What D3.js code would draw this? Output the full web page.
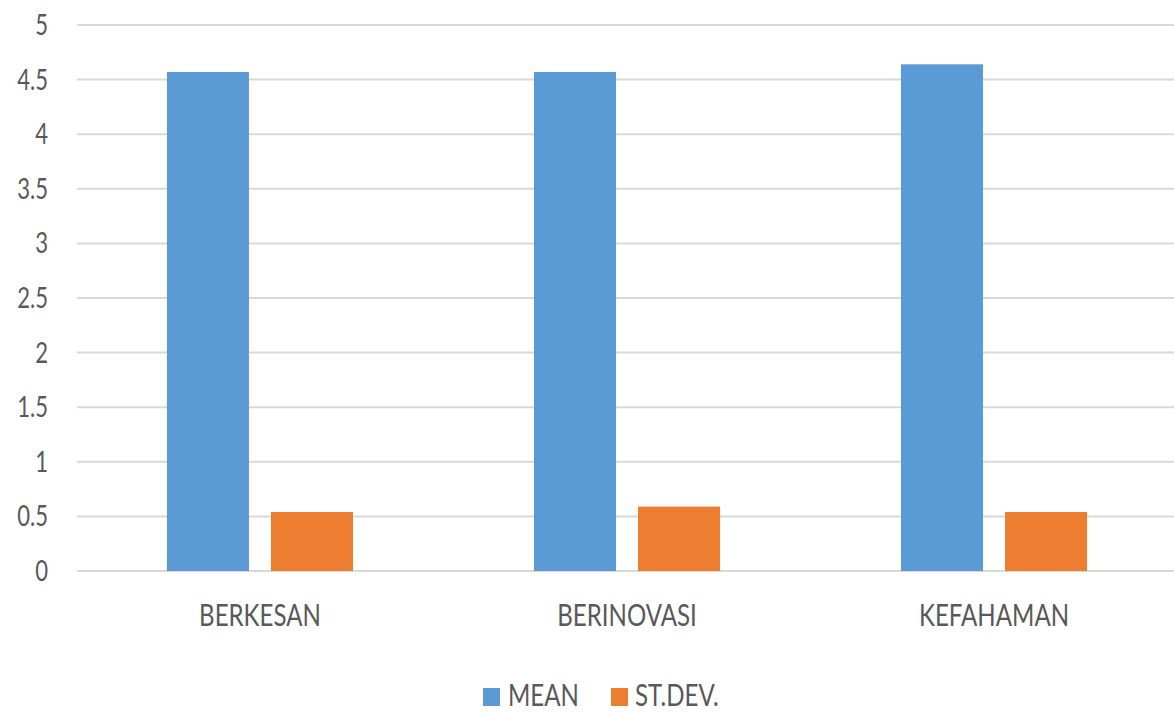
<!DOCTYPE html>
<html>
<head>
<meta charset="utf-8">
<script src="https://cdn.jsdelivr.net/npm/d3@7"></script>
<style>
  html, body { margin: 0; padding: 0; background: #fff; }
  svg { display: block; }
  text { font-family: Lato, "Open Sans", sans-serif; fill: #595959; }
</style>
</head>
<body>
<svg id="chart" width="1174" height="712"></svg>
<script>
// Survey summary: mean and standard deviation per aspect
const categories = ["BERKESAN", "BERINOVASI", "KEFAHAMAN"];
const seriesNames = ["MEAN", "ST.DEV."];
const meanValues = [4.57, 4.57, 4.64];
const stdevValues = [0.54, 0.59, 0.54];
const yTicks = [0, 0.5, 1, 1.5, 2, 2.5, 3, 3.5, 4, 4.5, 5];
const colors = ["#5B9BD5", "#ED7D31"];

const rows = categories.map((c, i) => ({ category: c, values: [meanValues[i], stdevValues[i]] }));

const svg = d3.select("#chart");
const plot = { left: 77, right: 1177, top: 25, bottom: 571 };

const y = d3.scaleLinear().domain([0, 5]).range([plot.bottom, plot.top]);
const x0 = d3.scaleBand().domain(categories).range([plot.left, plot.right])
  .paddingInner(0.493).paddingOuter(0.245);
const x1 = d3.scaleBand().domain(seriesNames).range([0, x0.bandwidth()])
  .paddingInner(0.2115).paddingOuter(0);
const color = d3.scaleOrdinal().domain(seriesNames).range(colors);

// Gridlines
svg.append("g").selectAll("line").data(yTicks).join("line")
  .attr("x1", plot.left).attr("x2", 1174)
  .attr("y1", d => y(d)).attr("y2", d => y(d))
  .attr("stroke", "#D9D9D9").attr("stroke-width", 2);

// Y tick labels (narrow, tall lettering)
svg.append("g").selectAll("text").data(yTicks).join("text")
  .attr("transform", d => `translate(48,${y(d) + 10}) scale(0.85,1.1)`)
  .attr("text-anchor", "end")
  .style("font-size", "26px")
  .text(d => d);

// Bars
const groups = svg.append("g").selectAll("g").data(rows).join("g")
  .attr("transform", d => `translate(${x0(d.category)},0)`);
groups.selectAll("rect")
  .data(d => d.values.map((v, i) => ({ key: seriesNames[i], value: v })))
  .join("rect")
  .attr("x", d => x1(d.key))
  .attr("width", x1.bandwidth())
  .attr("y", d => y(d.value))
  .attr("height", d => y(0) - y(d.value))
  .attr("fill", d => color(d.key));

// Category labels
svg.append("g").selectAll("text").data(categories).join("text")
  .attr("transform", d => `translate(${x0(d) + x0.bandwidth() / 2},626) scale(0.86,1.12)`)
  .attr("text-anchor", "middle")
  .style("font-size", "28px")
  .text(d => d);

// Legend
const legend = svg.append("g");
const legendItems = [
  { key: "MEAN", sx: 483, tx: 508 },
  { key: "ST.DEV.", sx: 611, tx: 635 }
];
legend.selectAll("rect").data(legendItems).join("rect")
  .attr("x", d => d.sx).attr("y", 688).attr("width", 17).attr("height", 18)
  .attr("fill", d => color(d.key));
legend.selectAll("text").data(legendItems).join("text")
  .attr("transform", d => `translate(${d.tx},706) scale(0.86,1.1)`)
  .style("font-size", "28px")
  .text(d => d.key);
</script>
</body>
</html>
